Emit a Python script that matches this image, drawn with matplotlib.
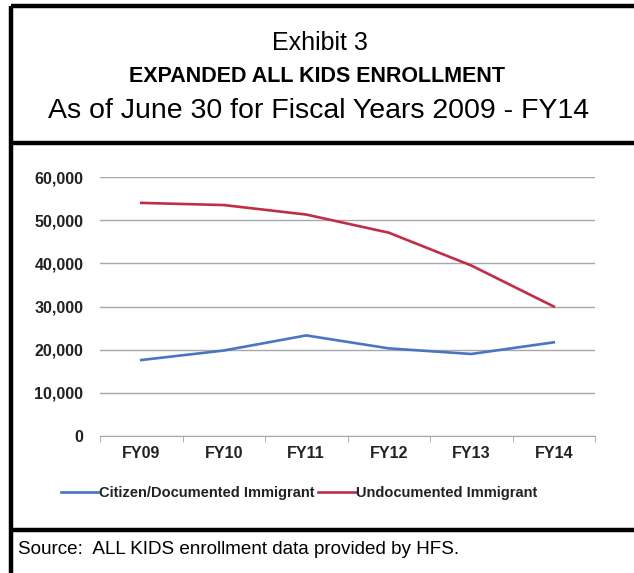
import numpy as np
import matplotlib
matplotlib.use("Agg")
from matplotlib import pyplot as plt
from matplotlib.lines import Line2D

plt.rcParams['font.family'] = ['Liberation Sans', 'DejaVu Sans']

years = ['FY09', 'FY10', 'FY11', 'FY12', 'FY13', 'FY14']
citizen = [17600, 19800, 23300, 20300, 19000, 21700]
undocumented = [54000, 53500, 51300, 47100, 39500, 30000]
y_ticks = [0, 10000, 20000, 30000, 40000, 50000, 60000]

W, H = 634, 573
fig = plt.figure(figsize=(W / 100, H / 100), dpi=100)

def px(x, y):
    # pixel coords (top-left origin) -> figure fraction
    return x / W, 1 - y / H

# frame lines
for (x0, y0), (x1, y1) in [((11, 5.5), (W, 5.5)), ((11, 5.5), (11, H)),
                           ((11, 143.5), (W, 143.5)), ((11, 529.5), (W, 529.5))]:
    a, b = px(x0, y0)
    c, d = px(x1, y1)
    fig.add_artist(Line2D([a, c], [b, d], color='black', lw=3.2,
                          solid_capstyle='butt'))

# header
fig.text(*px(320, 43), 'Exhibit 3', ha='center', va='center', fontsize=18)
fig.text(*px(317, 77), 'EXPANDED ALL KIDS ENROLLMENT', ha='center', va='center',
         fontsize=15.5, fontweight='bold')
fig.text(*px(319, 111), 'As of June 30 for Fiscal Years 2009 - FY14',
         ha='center', va='center', fontsize=20.5)

# chart
l, b = px(100, 436)
r, t = px(595, 177)
ax = fig.add_axes([l, b, r - l, t - b])
x = np.arange(len(years))
ax.plot(x, citizen, color='#4a74c4', lw=1.9, label='Citizen/Documented Immigrant')
ax.plot(x, undocumented, color='#c22d46', lw=1.9, label='Undocumented Immigrant')
ax.set_xlim(-0.5, 5.38)
ax.set_ylim(0, 60000)
ax.set_yticks(y_ticks)
ax.set_yticklabels([f'{v:,}' for v in y_ticks], fontweight='bold', fontsize=11.5,
                   color='#222222')
ax.set_xticks(x)
ax.set_xticklabels(years, fontweight='bold', fontsize=11.5, color='#222222')
ax.set_xticks(np.arange(-0.5, 5.6, 1), minor=True)
ax.tick_params(axis='x', which='major', length=0, pad=7)
ax.tick_params(axis='x', which='minor', length=4, color='#a0a0a0')
ax.tick_params(axis='y', length=0, pad=12)
ax.grid(axis='y', color='#a8a8a8', lw=1)
ax.set_axisbelow(True)
for s in ['top', 'right', 'left']:
    ax.spines[s].set_visible(False)
ax.spines['bottom'].set_color('#a8a8a8')

leg = fig.legend(loc='center', bbox_to_anchor=px(299, 493), ncol=2, frameon=False,
                 handlelength=2.6, handletextpad=0.05, columnspacing=0.2,
                 prop={'weight': 'bold', 'size': 10.5})
for txt in leg.get_texts():
    txt.set_color('#222222')

# source
fig.text(*px(18, 549), 'Source:  ALL KIDS enrollment data provided by HFS.',
         ha='left', va='center', fontsize=13.6)

fig.savefig('out.png', dpi=100)
